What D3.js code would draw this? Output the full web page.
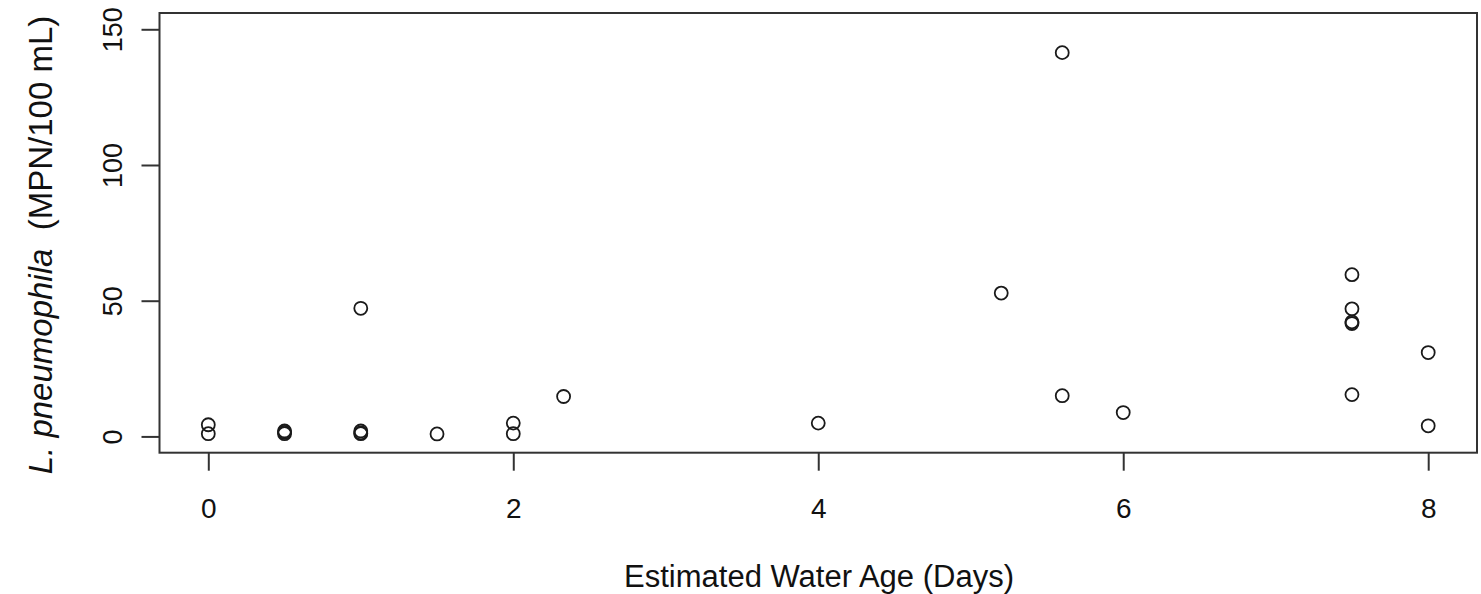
<!DOCTYPE html>
<html>
<head>
<meta charset="utf-8">
<script src="https://cdn.jsdelivr.net/npm/d3@7"></script>
<style>
  html, body { margin: 0; padding: 0; background: #fff; }
  svg { display: block; }
  text { font-family: "Liberation Sans", Arial, sans-serif; fill: #111; }
</style>
</head>
<body>
<svg id="chart" width="1481" height="594"></svg>
<script>
// Estimated water age (days)
const waterAge = [0, 0, 0.5, 0.5, 0.5, 1, 1, 1, 1, 1.5, 2, 2, 2.33, 4, 5.2, 5.6, 5.6, 6, 7.5, 7.5, 7.5, 7.5, 7.5, 8, 8];
// L. pneumophila (MPN/100 mL)
const lpCount  = [4.3, 1.0, 2.0, 1.5, 1.0, 2.0, 1.3, 1.0, 47.2, 0.9, 4.9, 1.0, 14.7, 4.9, 52.8, 141.4, 15.0, 8.8, 59.6, 47.0, 42.2, 41.6, 15.4, 30.9, 3.9];
const xTicks = [0, 2, 4, 6, 8];
const yTicks = [0, 50, 100, 150];
const xLimits = [0, 8];
const yLimits = [0, 150];

(function () {
const svg = d3.select("#chart");
const pL = 159.5, pR = 1477, pT = 13, pB = 452.7;

function pad(lim) { const r = lim[1] - lim[0]; return [lim[0] - 0.04 * r, lim[1] + 0.04 * r]; }

const x = d3.scaleLinear().domain(pad(xLimits)).range([pL, pR]);
const y = d3.scaleLinear().domain(pad(yLimits)).range([pB, pT]);

const axisColor = "#333";
const fontFam = "'Liberation Sans', Arial, sans-serif";

// box
svg.append("rect")
  .attr("x", pL).attr("y", pT)
  .attr("width", pR - pL).attr("height", pB - pT)
  .attr("fill", "none").attr("stroke", axisColor).attr("stroke-width", 2);

// x axis
const xAxis = d3.axisBottom(x).tickValues(xTicks).tickSize(18).tickPadding(27).tickFormat(d3.format("d"));
const gx = svg.append("g").attr("transform", `translate(0,${pB})`).call(xAxis);
gx.select(".domain").remove();
gx.selectAll(".tick line").attr("stroke", axisColor).attr("stroke-width", 2);
gx.selectAll(".tick text").attr("font-size", 28).attr("fill", "#111").style("font-family", fontFam);

// y axis
const yAxis = d3.axisLeft(y).tickValues(yTicks).tickSize(18).tickPadding(0).tickFormat(d3.format("d"));
const gy = svg.append("g").attr("transform", `translate(${pL},0)`).call(yAxis);
gy.select(".domain").remove();
gy.selectAll(".tick line").attr("stroke", axisColor).attr("stroke-width", 2);
gy.selectAll(".tick text")
  .attr("font-size", 27).attr("fill", "#111")
  .attr("text-anchor", "middle")
  .attr("dy", null)
  .attr("x", null)
  .attr("y", 0)
  .attr("transform", "translate(-47,0) rotate(-90)")
  .attr("dominant-baseline", "central")
  .style("font-family", fontFam);

// points
svg.append("g").selectAll("circle")
  .data(waterAge.map((d, i) => [d, lpCount[i]]))
  .join("circle")
  .attr("cx", d => x(d[0]))
  .attr("cy", d => y(d[1]))
  .attr("r", 6.5)
  .attr("fill", "none")
  .attr("stroke", "#1a1a1a")
  .attr("stroke-width", 1.8);

// x label
svg.append("text")
  .attr("x", 819)
  .attr("y", 587)
  .attr("text-anchor", "middle")
  .attr("font-size", 31)
  .text("Estimated Water Age (Days)");

// y label
const yl = svg.append("text")
  .attr("transform", `translate(40,245) rotate(-90)`)
  .attr("text-anchor", "middle")
  .attr("dominant-baseline", "central")
  .attr("font-size", 33);
yl.append("tspan").attr("font-style", "italic").text("L. pneumophila");
yl.append("tspan").text("\u00a0\u00a0(MPN/100 mL)");
})();
</script>
</body>
</html>
